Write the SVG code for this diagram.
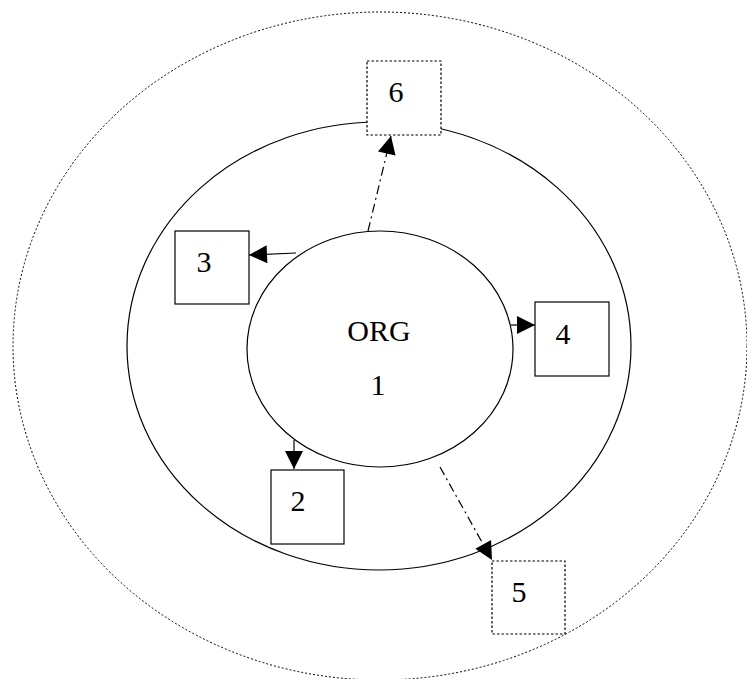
<svg xmlns="http://www.w3.org/2000/svg" width="747" height="679" viewBox="0 0 747 679">
<style>
.ring{fill:none;stroke:#000;stroke-width:1.2}
.dot{fill:none;stroke:#000;stroke-width:1;stroke-dasharray:2 2}
.box{fill:#fff;stroke:#000;stroke-width:1.2}
.dbox{fill:#fff;stroke:#000;stroke-width:1.2;stroke-dasharray:2.5 2}
.lbl{font-family:"Liberation Serif","Times New Roman",serif;font-size:30px;fill:#000;text-anchor:middle}
.c{stroke:#000;stroke-width:1.2;fill:none}
.dd{stroke-dasharray:9 4 2 4}
</style>
<defs>
<marker id="ah" viewBox="0 0 10 10" refX="10" refY="5" markerWidth="20" markerHeight="18" markerUnits="userSpaceOnUse" orient="auto">
<path d="M0,0 L10,5 L0,10 Z" fill="#000"/>
</marker>
</defs>
<g id="outer"><ellipse class="dot" cx="380" cy="346" rx="367" ry="334"/></g>
<g id="middle"><ellipse class="ring" cx="379" cy="346" rx="252" ry="224"/></g>
<g id="connectors">
<line class="c dd" x1="368" y1="231" x2="391" y2="136" marker-end="url(#ah)"/>
<line class="c" x1="296" y1="253" x2="249" y2="255" marker-end="url(#ah)"/>
<line class="c" x1="511" y1="325" x2="535" y2="325" marker-end="url(#ah)"/>
<line class="c" x1="294" y1="440" x2="294" y2="469" marker-end="url(#ah)"/>
<line class="c dd" x1="440" y1="467" x2="492" y2="560" marker-end="url(#ah)"/>
</g>
<g id="org">
<ellipse class="box" cx="380" cy="349" rx="133" ry="118"/>
<text class="lbl" x="379" y="341">ORG</text>
<text class="lbl" x="378" y="395">1</text>
</g>
<g id="n6"><rect class="dbox" x="367" y="61" width="74" height="74"/><text class="lbl" x="396" y="102">6</text></g>
<g id="n3"><rect class="box" x="175" y="231" width="74" height="73"/><text class="lbl" x="204" y="272">3</text></g>
<g id="n4"><rect class="box" x="535" y="302" width="74" height="74"/><text class="lbl" x="563" y="344">4</text></g>
<g id="n2"><rect class="box" x="271" y="470" width="73" height="74"/><text class="lbl" x="298" y="511">2</text></g>
<g id="n5"><rect class="dbox" x="492" y="561" width="73" height="73"/><text class="lbl" x="519" y="602">5</text></g>
</svg>
